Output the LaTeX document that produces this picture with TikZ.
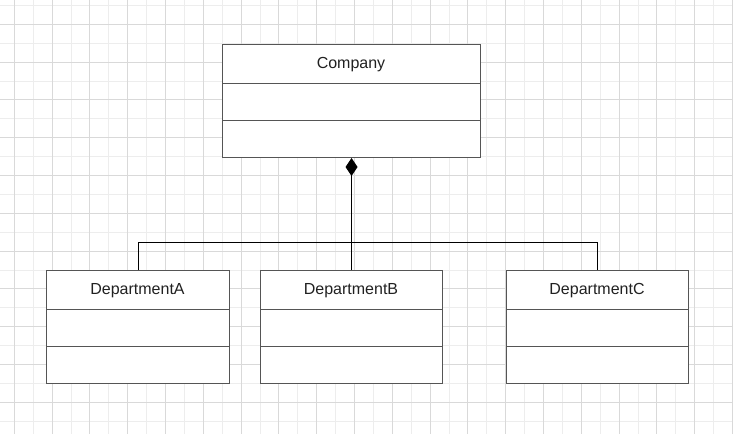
\documentclass[tikz,border=0pt]{standalone}
\usepackage{fontspec}
\setmainfont{Liberation Sans}
\usetikzlibrary{arrows.meta}
\definecolor{gridminor}{HTML}{EDEDED}
\definecolor{gridmajor}{HTML}{D9D9D9}
\definecolor{boxline}{HTML}{555555}
\tikzset{
  umlbox/.style={draw=boxline, line width=1pt, fill=white, anchor=north west, inner sep=0pt},
  divider/.style={draw=boxline, line width=1pt},
  lbl/.style={font=\fontsize{16}{19}\selectfont, text=black!87, inner sep=0pt, anchor=base},
  conn/.style={draw=black, line width=1pt},
}
\begin{document}
\begin{tikzpicture}[x=1pt,y=-1pt]
\useasboundingbox (0,0) rectangle (733,434);
\fill[white] (0,0) rectangle (733,434);
% grid
\foreach \k in {0,...,38} {
  \pgfmathsetmacro{\xx}{14.3+18.9*\k}
  \ifodd\k
    \draw[gridminor, line width=1pt] (\xx,0) -- (\xx,434);
  \fi
}
\foreach \k in {0,...,22} {
  \pgfmathsetmacro{\yy}{24.3+18.9*\k}
  \ifodd\k
    \draw[gridminor, line width=1pt] (0,\yy) -- (733,\yy);
  \fi
}
\draw[gridminor, line width=1pt] (0,5.4) -- (733,5.4);
\foreach \k in {0,...,38} {
  \pgfmathsetmacro{\xx}{14.3+18.9*\k}
  \ifodd\k\else
    \draw[gridmajor, line width=1pt] (\xx,0) -- (\xx,434);
  \fi
}
\foreach \k in {0,...,22} {
  \pgfmathsetmacro{\yy}{24.3+18.9*\k}
  \ifodd\k\else
    \draw[gridmajor, line width=1pt] (0,\yy) -- (733,\yy);
  \fi
}
% boxes
\node[umlbox, minimum width=258pt, minimum height=113pt] (comp) at (222,44) {};
\node[umlbox, minimum width=183pt, minimum height=113pt] (depA) at (46,270) {};
\node[umlbox, minimum width=182pt, minimum height=113pt] (depB) at (260,270) {};
\node[umlbox, minimum width=182pt, minimum height=113pt] (depC) at (506,270) {};
% dividers
\draw[divider] (222,83) -- (480,83);
\draw[divider] (222,120) -- (480,120);
\foreach \n/\a/\b in {depA/46/229, depB/260/442, depC/506/688} {
  \draw[divider] (\a,309) -- (\b,309);
  \draw[divider] (\a,346) -- (\b,346);
}
% labels
\node[lbl] (tcomp) at (351,68.5) {Company};
\node[lbl] (tA) at (137.5,294.5) {DepartmentA};
\node[lbl] (tB) at (351,294.5) {DepartmentB};
\node[lbl] (tC) at (597,294.5) {DepartmentC};
% connectors
\coordinate (bus) at (351,242.5);
\draw[conn, {Diamond[length=18pt,width=12pt,fill=black]}-] (comp.south) -- (depB.north);
\draw[conn] (depA.north) -- (depA.north |- bus) -- (depC.north |- bus) -- (depC.north);
\end{tikzpicture}
\end{document}
